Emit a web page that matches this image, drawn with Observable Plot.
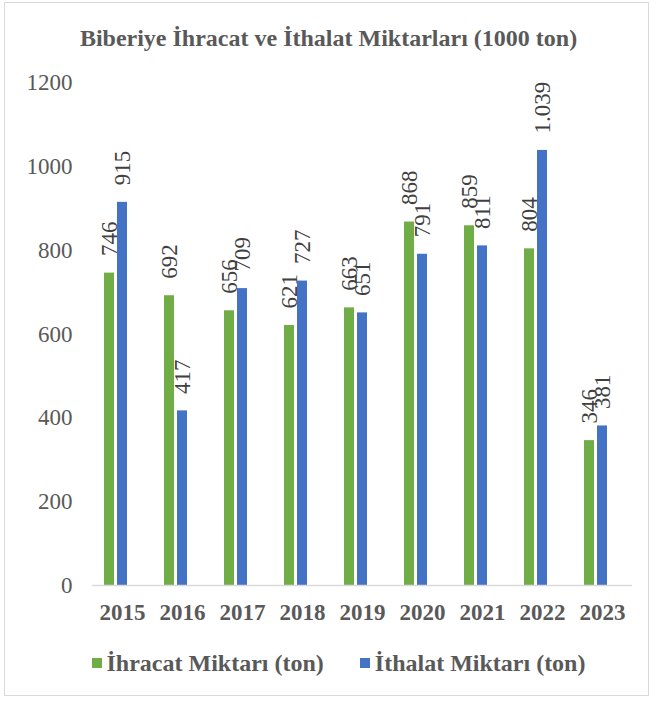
<!DOCTYPE html>
<html>
<head>
<meta charset="utf-8">
<script src="https://cdn.jsdelivr.net/npm/d3@7"></script>
<script src="https://cdn.jsdelivr.net/npm/@observablehq/plot@0.6"></script>
<style>
  html, body { margin: 0; padding: 0; background: #fff; }
  body { width: 657px; height: 704px; position: relative; font-family: "Liberation Serif", "Times New Roman", serif; }
  #frame { position: absolute; left: 4px; top: 2px; width: 645px; height: 694px; border: 1px solid #D9D9D9; box-sizing: border-box; }
  #title { position: absolute; left: 0; top: 23px; width: 657px; text-align: center; font-weight: bold; font-size: 24px; color: #595959; line-height: 30px; }
  #chart { position: absolute; left: 0; top: 60px; }
  #chart svg, #chart svg text { font-family: "Liberation Serif", "Times New Roman", serif !important; }
  #legend { position: absolute; left: 0; top: 648px; width: 657px; display: flex; justify-content: center; align-items: center; gap: 36px; font-weight: bold; font-size: 24px; color: #595959; padding-left: 20px; box-sizing: border-box; line-height: 30px; }
  .item { display: flex; align-items: center; gap: 5px; }
  .sw { width: 10px; height: 10px; display: inline-block; }
</style>
</head>
<body>
<div id="frame"></div>
<div id="title">Biberiye İhracat ve İthalat Miktarları (1000 ton)</div>
<div id="chart"></div>
<div id="legend"></div>
<script>
const years = ["2015", "2016", "2017", "2018", "2019", "2020", "2021", "2022", "2023"];
const ihracat = [746, 692, 656, 621, 663, 868, 859, 804, 346];
const ithalat = [915, 417, 709, 727, 651, 791, 811, 1039, 381];
const seriesNames = ["İhracat Miktarı (ton)", "İthalat Miktarı (ton)"];
const seriesColors = ["#70AD47", "#4472C4"];
const yTicks = [0, 200, 400, 600, 800, 1000, 1200];

const rows = [];
years.forEach((yr, i) => {
  rows.push({year: yr, series: seriesNames[0], value: ihracat[i]});
  rows.push({year: yr, series: seriesNames[1], value: ithalat[i]});
});

const trFormat = d3.formatLocale({decimal: ",", thousands: ".", grouping: [3], currency: ["", ""]}).format(",d");
const fontFamily = '"Liberation Serif", "Times New Roman", serif';

const chart = Plot.plot({
  width: 657,
  height: 575,
  marginLeft: 90,
  marginRight: 24,
  marginTop: 22.5,
  marginBottom: 50,
  style: {fontFamily, background: "transparent", overflow: "visible"},
  fx: {domain: years, padding: 0, label: null},
  x: {domain: [seriesNames[0], seriesNames[1], "_"], paddingInner: 0.2, paddingOuter: 0.866, axis: null},
  y: {domain: [0, 1200], label: null},
  color: {domain: seriesNames, range: seriesColors},
  marks: [
    Plot.barY(rows, {fx: "year", x: "series", y: "value", fill: "series"}),
    Plot.ruleY([0], {stroke: "#D9D9D9", strokeWidth: 1.5}),
    Plot.text(rows, {
      fx: "year", x: "series", y: "value",
      text: d => trFormat(d.value),
      rotate: -90, textAnchor: "start", lineAnchor: "middle",
      dy: -17, fontSize: 23, fill: "#404040", fontFamily
    }),
    Plot.axisY({ticks: yTicks, tickSize: 0, tickPadding: 20, tickFormat: d => String(d), fontSize: 23, color: "#595959", label: null, fontFamily}),
    Plot.axisFx({anchor: "bottom", tickSize: 0, tickPadding: 18, fontSize: 23, fontWeight: "bold", color: "#595959", label: null, fontFamily})
  ]
});
document.getElementById("chart").appendChild(chart);

const legend = document.getElementById("legend");
seriesNames.forEach((name, i) => {
  const item = document.createElement("div");
  item.className = "item";
  const sw = document.createElement("span");
  sw.className = "sw";
  sw.style.background = seriesColors[i];
  const label = document.createElement("span");
  label.textContent = name;
  item.appendChild(sw);
  item.appendChild(label);
  legend.appendChild(item);
});
</script>
</body>
</html>
